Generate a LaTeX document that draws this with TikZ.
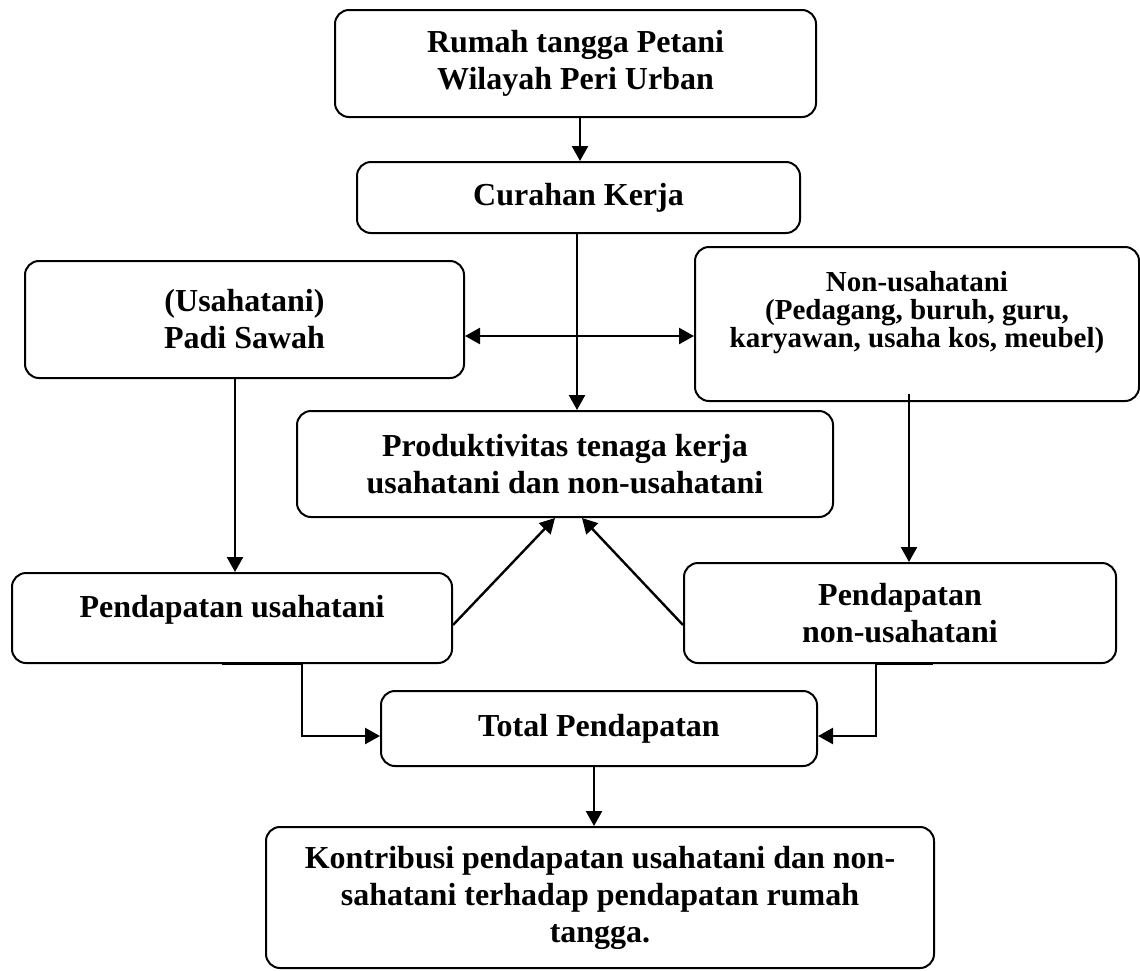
\documentclass[tikz,border=0pt]{standalone}
\usepackage{fontspec}
\setmainfont{Liberation Serif}
\usetikzlibrary{arrows.meta}
\begin{document}
\begin{tikzpicture}[x=1pt,y=-1pt,
  box/.style={draw, line width=2pt, rounded corners=14pt, inner sep=0pt, align=center,
    font=\bfseries\fontsize{32}{37}\selectfont},
  smallbox/.style={box, font=\bfseries\fontsize{29}{28}\selectfont},
  conn/.style={line width=2.4pt, -{Triangle[length=15pt,width=16pt]}},
  both/.style={line width=2.4pt, {Triangle[length=15pt,width=16pt]}-{Triangle[length=15pt,width=16pt]}},
  plain/.style={line width=2.4pt}]
\useasboundingbox (0,0) rectangle (1140,970);

% boxes
\node[box, minimum width=481, minimum height=107] (b1) at (575.5,63.5)
  {Rumah tangga Petani\\Wilayah Peri Urban};
\node[box, minimum width=443, minimum height=71] (b2) at (578.5,197.5)
  {Curahan Kerja};
\node[box, minimum width=439, minimum height=117] (b3) at (244.5,319.5)
  {(Usahatani)\\Padi Sawah};
\node[smallbox, minimum width=444, minimum height=154] (b4) at (917,324)
  {Non-usahatani\\(Pedagang, buruh, guru,\\karyawan, usaha kos, meubel)\rule[-30pt]{0pt}{0pt}};
\node[box, minimum width=536, minimum height=106] (b5) at (565,464)
  {Produktivitas tenaga kerja\\usahatani dan non-usahatani};
\node[box, minimum width=440, minimum height=90] (b6) at (232,618)
  {Pendapatan usahatani\rule[-23pt]{0pt}{0pt}};
\node[box, minimum width=432, minimum height=100] (b7) at (900,613)
  {Pendapatan\\non-usahatani};
\node[box, minimum width=436, minimum height=75] (b8) at (599,728.5)
  {Total Pendapatan};
\node[box, minimum width=668, minimum height=141] (b9) at (600,897.5)
  {Kontribusi pendapatan usahatani dan non-\\sahatani terhadap pendapatan rumah\\tangga.};

% guide coordinates
\coordinate (v580) at (580,0);
\coordinate (v577) at (577,0);
\coordinate (v235) at (235,0);
\coordinate (v909) at (909,0);
\coordinate (v555) at (555,0);
\coordinate (v582) at (582,0);
\coordinate (v222) at (222,0);
\coordinate (v302) at (302,0);
\coordinate (v933) at (933,0);
\coordinate (v876) at (876,0);
\coordinate (v594) at (594,0);
\coordinate (h336) at (0,336);
\coordinate (h625) at (0,625);
\coordinate (h736) at (0,736);
\coordinate (h394) at (0,394);

% connectors
\draw[conn] (b1.south -| v580) -- (b2.north -| v580);
\draw[conn] (b2.south -| v577) -- (b5.north -| v577);
\draw[both] (b3.east |- h336) -- (b4.west |- h336);
\draw[conn] (b3.south -| v235) -- (b6.north -| v235);
\draw[conn] (v909 |- h394) -- (b7.north -| v909);
\draw[conn] (b6.east |- h625) -- (b5.south -| v555);
\draw[conn] (b7.west |- h625) -- (b5.south -| v582);
\draw[conn] (b6.south -| v222) -- (b6.south -| v302) -- (v302 |- h736) -- (b8.west |- h736);
\draw[conn] (b7.south -| v933) -- (b7.south -| v876) -- (v876 |- h736) -- (b8.east |- h736);
\draw[conn] (b8.south -| v594) -- (b9.north -| v594);
\end{tikzpicture}
\end{document}
